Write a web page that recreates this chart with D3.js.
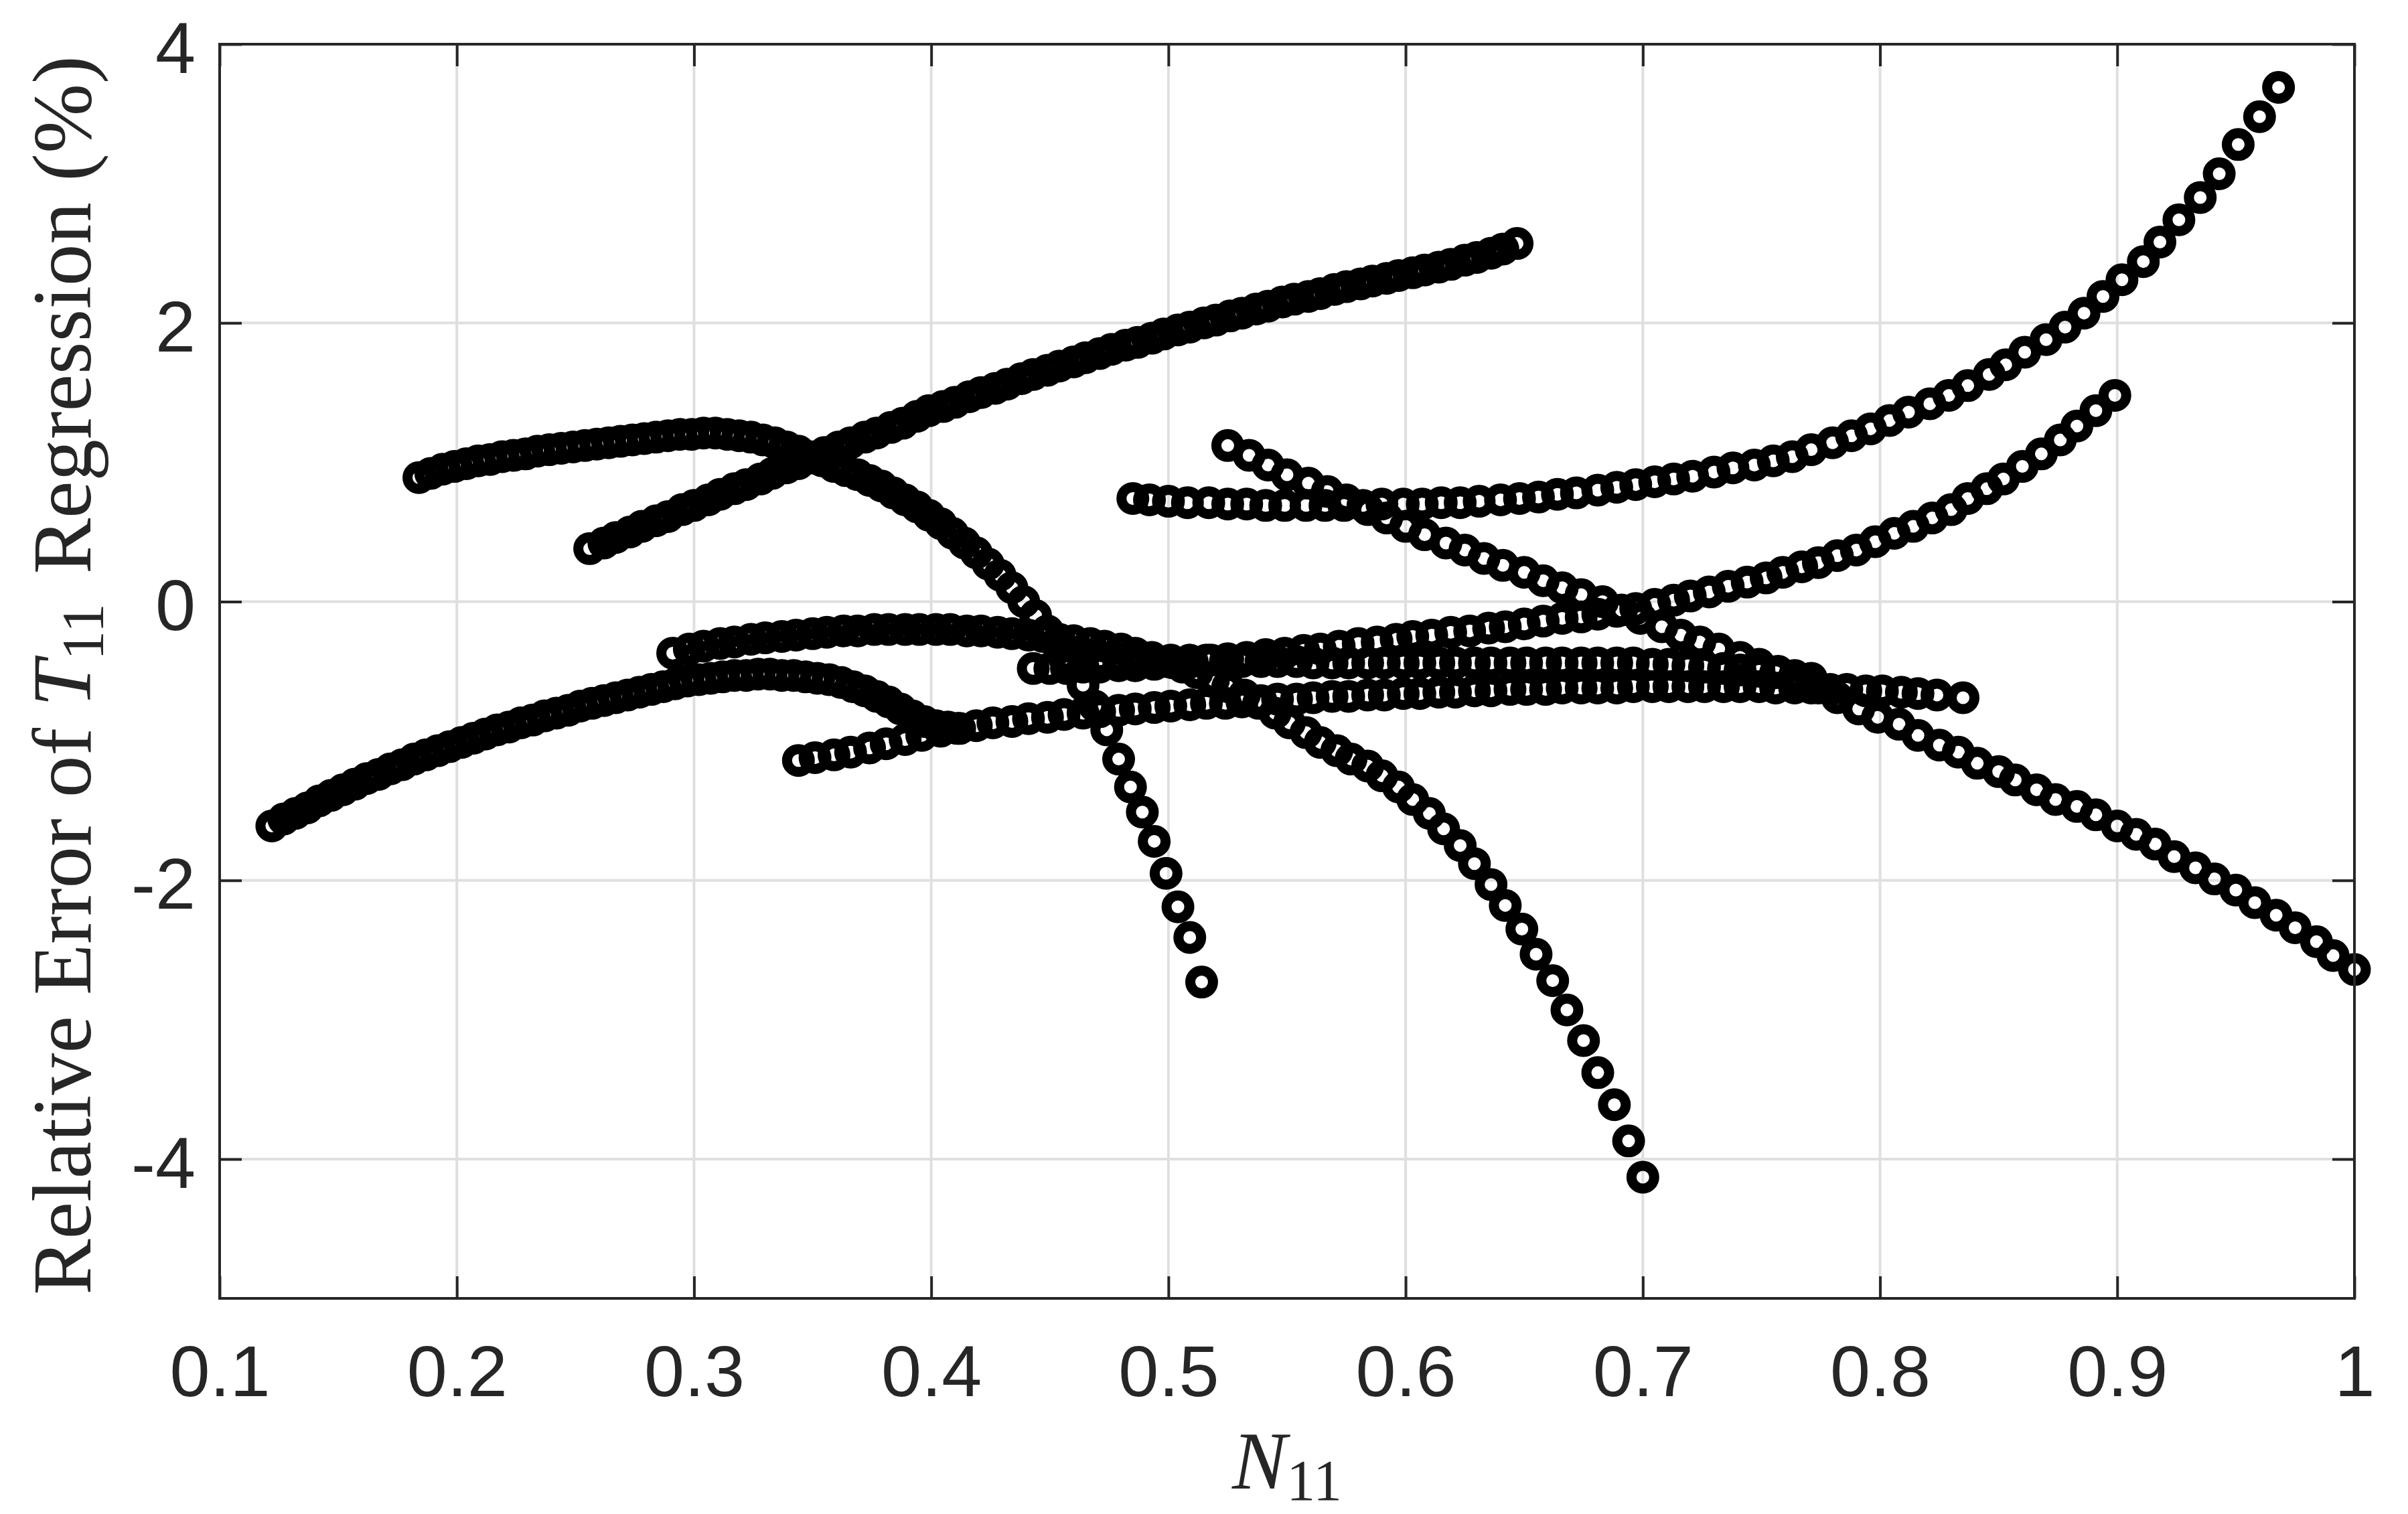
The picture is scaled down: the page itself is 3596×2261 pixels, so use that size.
<!DOCTYPE html>
<html>
<head>
<meta charset="utf-8">
<script src="https://cdn.jsdelivr.net/npm/d3@7"></script>
<style>
  html, body { margin: 0; padding: 0; background: #fff; }
  svg { display: block; }
</style>
</head>
<body>
<svg id="chart"></svg>
<script>
const xTicks = [0.1, 0.2, 0.3, 0.4, 0.5, 0.6, 0.7, 0.8, 0.9, 1];
const xTickLabels = ['0.1', '0.2', '0.3', '0.4', '0.5', '0.6', '0.7', '0.8', '0.9', '1'];
const yTicks = [-4, -2, 0, 2, 4];
const yTickLabels = ['-4', '-2', '0', '2', '4'];

// [N11, relative error %], one array per curve
const curveA = [
  [0.184, 0.89], [0.189, 0.92], [0.194, 0.95], [0.199, 0.97], [0.204, 0.99], [0.209, 1.01], [0.214, 1.02],
  [0.219, 1.04], [0.224, 1.05], [0.229, 1.06], [0.234, 1.08], [0.239, 1.09], [0.244, 1.10], [0.249, 1.11],
  [0.254, 1.12], [0.259, 1.13], [0.264, 1.14], [0.269, 1.15], [0.274, 1.16], [0.279, 1.17], [0.284, 1.18],
  [0.289, 1.19], [0.294, 1.20], [0.299, 1.20], [0.304, 1.21], [0.309, 1.21], [0.314, 1.20], [0.319, 1.19],
  [0.324, 1.18], [0.329, 1.16], [0.334, 1.14], [0.339, 1.11], [0.344, 1.08], [0.349, 1.04], [0.354, 1.01],
  [0.359, 0.97], [0.364, 0.94], [0.369, 0.91], [0.374, 0.87], [0.379, 0.83], [0.384, 0.78], [0.389, 0.73],
  [0.394, 0.68], [0.399, 0.62], [0.404, 0.56], [0.409, 0.49], [0.414, 0.42], [0.419, 0.35], [0.424, 0.27],
  [0.429, 0.19], [0.434, 0.10], [0.439, 0.00], [0.444, -0.10], [0.449, -0.21], [0.454, -0.33], [0.459, -0.46],
  [0.464, -0.60], [0.469, -0.75], [0.474, -0.92], [0.479, -1.13], [0.484, -1.33], [0.489, -1.51], [0.494, -1.72],
  [0.499, -1.95], [0.504, -2.19], [0.509, -2.41], [0.514, -2.73]
];

const curveB = [
  [0.256, 0.38], [0.262, 0.42], [0.267, 0.46], [0.273, 0.50], [0.278, 0.54], [0.284, 0.58], [0.289, 0.61],
  [0.295, 0.66], [0.300, 0.69], [0.306, 0.73], [0.311, 0.77], [0.317, 0.81], [0.322, 0.84], [0.328, 0.88],
  [0.333, 0.92], [0.339, 0.96], [0.344, 0.99], [0.350, 1.03], [0.355, 1.07], [0.361, 1.11], [0.366, 1.14],
  [0.372, 1.18], [0.377, 1.21], [0.383, 1.25], [0.388, 1.28], [0.394, 1.33], [0.399, 1.37], [0.405, 1.40],
  [0.410, 1.43], [0.416, 1.47], [0.421, 1.50], [0.427, 1.53], [0.432, 1.56], [0.438, 1.60], [0.443, 1.63],
  [0.449, 1.66], [0.454, 1.69], [0.460, 1.72], [0.465, 1.75], [0.471, 1.78], [0.476, 1.81], [0.482, 1.84],
  [0.487, 1.86], [0.493, 1.89], [0.498, 1.92], [0.504, 1.95], [0.509, 1.97], [0.515, 2.00], [0.520, 2.02],
  [0.526, 2.05], [0.531, 2.07], [0.537, 2.10], [0.542, 2.12], [0.548, 2.15], [0.553, 2.17], [0.559, 2.19],
  [0.564, 2.21], [0.570, 2.24], [0.575, 2.26], [0.581, 2.28], [0.586, 2.30], [0.592, 2.32], [0.597, 2.34],
  [0.603, 2.36], [0.608, 2.38], [0.614, 2.40], [0.619, 2.42], [0.625, 2.45], [0.630, 2.47], [0.636, 2.50],
  [0.641, 2.53], [0.647, 2.57]
];

const curveC = [
  [0.122, -1.61], [0.127, -1.56], [0.132, -1.52], [0.137, -1.48], [0.142, -1.43], [0.147, -1.39], [0.152, -1.35],
  [0.157, -1.31], [0.162, -1.27], [0.167, -1.24], [0.172, -1.20], [0.177, -1.17], [0.182, -1.13], [0.187, -1.10],
  [0.192, -1.07], [0.197, -1.04], [0.202, -1.01], [0.207, -0.98], [0.212, -0.95], [0.217, -0.92], [0.222, -0.90],
  [0.227, -0.87], [0.232, -0.85], [0.237, -0.82], [0.242, -0.80], [0.247, -0.78], [0.252, -0.75], [0.257, -0.73],
  [0.262, -0.71], [0.267, -0.69], [0.272, -0.67], [0.277, -0.65], [0.282, -0.63], [0.287, -0.61], [0.292, -0.59],
  [0.297, -0.57], [0.302, -0.56], [0.307, -0.55], [0.312, -0.54], [0.317, -0.53], [0.322, -0.53], [0.327, -0.52],
  [0.332, -0.52], [0.337, -0.53], [0.342, -0.53], [0.347, -0.54], [0.352, -0.55], [0.357, -0.56], [0.362, -0.58],
  [0.367, -0.61], [0.372, -0.64], [0.377, -0.68], [0.382, -0.72], [0.387, -0.77], [0.392, -0.82], [0.397, -0.86],
  [0.402, -0.89], [0.407, -0.90], [0.412, -0.91]
];

const curveD = [
  [0.291, -0.37], [0.298, -0.34], [0.304, -0.32], [0.311, -0.30], [0.317, -0.29], [0.324, -0.27], [0.330, -0.26],
  [0.337, -0.25], [0.343, -0.24], [0.350, -0.23], [0.356, -0.22], [0.363, -0.21], [0.369, -0.21], [0.376, -0.20],
  [0.382, -0.20], [0.389, -0.20], [0.395, -0.20], [0.402, -0.20], [0.408, -0.20], [0.415, -0.21], [0.421, -0.21],
  [0.428, -0.22], [0.434, -0.23], [0.441, -0.24], [0.447, -0.25], [0.454, -0.27], [0.460, -0.28], [0.467, -0.30],
  [0.473, -0.32], [0.480, -0.34], [0.486, -0.37], [0.493, -0.40], [0.499, -0.43], [0.506, -0.47], [0.512, -0.51],
  [0.519, -0.56], [0.525, -0.61], [0.532, -0.67], [0.538, -0.73], [0.545, -0.80], [0.551, -0.87], [0.558, -0.94],
  [0.564, -1.01], [0.571, -1.07], [0.577, -1.13], [0.584, -1.18], [0.590, -1.25], [0.597, -1.33], [0.603, -1.42],
  [0.610, -1.52], [0.616, -1.63], [0.623, -1.75], [0.629, -1.88], [0.636, -2.03], [0.642, -2.18], [0.649, -2.35],
  [0.655, -2.53], [0.662, -2.72], [0.668, -2.93], [0.675, -3.15], [0.681, -3.38], [0.688, -3.61], [0.694, -3.87],
  [0.700, -4.13]
];

const curveE = [
  [0.344, -1.14], [0.351, -1.12], [0.359, -1.10], [0.366, -1.08], [0.374, -1.05], [0.381, -1.02], [0.389, -0.99],
  [0.396, -0.96], [0.404, -0.93], [0.411, -0.91], [0.419, -0.89], [0.426, -0.87], [0.434, -0.86], [0.441, -0.84],
  [0.449, -0.83], [0.456, -0.81], [0.464, -0.80], [0.471, -0.79], [0.479, -0.78], [0.486, -0.77], [0.494, -0.76],
  [0.501, -0.75], [0.509, -0.74], [0.516, -0.73], [0.524, -0.73], [0.531, -0.72], [0.539, -0.71], [0.546, -0.70],
  [0.554, -0.70], [0.561, -0.69], [0.569, -0.68], [0.576, -0.68], [0.584, -0.67], [0.591, -0.67], [0.599, -0.66],
  [0.606, -0.66], [0.614, -0.65], [0.621, -0.65], [0.629, -0.64], [0.636, -0.64], [0.644, -0.63], [0.651, -0.63],
  [0.659, -0.63], [0.666, -0.62], [0.674, -0.62], [0.681, -0.62], [0.689, -0.62], [0.696, -0.61], [0.704, -0.61],
  [0.711, -0.61], [0.719, -0.61], [0.726, -0.61], [0.734, -0.61], [0.741, -0.61], [0.749, -0.61], [0.756, -0.62],
  [0.764, -0.62], [0.771, -0.62], [0.779, -0.63], [0.786, -0.63], [0.794, -0.64], [0.801, -0.64], [0.809, -0.65],
  [0.816, -0.66], [0.824, -0.67], [0.835, -0.69]
];

const curveF = [
  [0.443, -0.48], [0.450, -0.48], [0.457, -0.48], [0.464, -0.47], [0.471, -0.47], [0.479, -0.46], [0.486, -0.46],
  [0.494, -0.45], [0.502, -0.44], [0.510, -0.43], [0.518, -0.42], [0.525, -0.41], [0.533, -0.40], [0.541, -0.38],
  [0.549, -0.37], [0.557, -0.35], [0.564, -0.34], [0.572, -0.32], [0.580, -0.30], [0.588, -0.29], [0.596, -0.27],
  [0.603, -0.25], [0.611, -0.24], [0.619, -0.22], [0.627, -0.21], [0.635, -0.19], [0.642, -0.18], [0.650, -0.16],
  [0.658, -0.14], [0.666, -0.12], [0.674, -0.11], [0.681, -0.09], [0.689, -0.07], [0.697, -0.05], [0.705, -0.02],
  [0.713, 0.01], [0.720, 0.04], [0.728, 0.07], [0.736, 0.11], [0.744, 0.14], [0.752, 0.17], [0.759, 0.21],
  [0.767, 0.25], [0.774, 0.28], [0.782, 0.33], [0.790, 0.37], [0.798, 0.43], [0.806, 0.49], [0.814, 0.54],
  [0.822, 0.60], [0.830, 0.66], [0.837, 0.74], [0.845, 0.81], [0.852, 0.88], [0.860, 0.97], [0.868, 1.06],
  [0.876, 1.16], [0.883, 1.26], [0.891, 1.37], [0.899, 1.48]
];

const curveG = [
  [0.485, 0.74], [0.492, 0.73], [0.500, 0.72], [0.508, 0.71], [0.517, 0.71], [0.525, 0.70], [0.533, 0.70],
  [0.541, 0.69], [0.549, 0.69], [0.558, 0.69], [0.566, 0.69], [0.574, 0.69], [0.582, 0.69], [0.590, 0.70],
  [0.599, 0.70], [0.607, 0.70], [0.615, 0.71], [0.623, 0.71], [0.631, 0.72], [0.640, 0.73], [0.648, 0.74],
  [0.656, 0.75], [0.664, 0.77], [0.672, 0.78], [0.681, 0.80], [0.689, 0.82], [0.697, 0.84], [0.705, 0.86],
  [0.713, 0.88], [0.721, 0.90], [0.730, 0.93], [0.738, 0.96], [0.747, 0.98], [0.755, 1.01], [0.763, 1.04],
  [0.771, 1.09], [0.780, 1.14], [0.788, 1.19], [0.796, 1.24], [0.804, 1.30], [0.812, 1.36], [0.821, 1.42],
  [0.829, 1.48], [0.837, 1.55], [0.846, 1.63], [0.853, 1.70], [0.861, 1.79], [0.870, 1.88], [0.878, 1.97],
  [0.886, 2.07], [0.894, 2.19], [0.902, 2.31], [0.911, 2.44], [0.918, 2.58], [0.926, 2.74], [0.935, 2.90],
  [0.943, 3.07], [0.951, 3.28], [0.960, 3.48], [0.968, 3.69]
];

const curveH = [
  [0.525, 1.12], [0.534, 1.05], [0.542, 0.98], [0.550, 0.91], [0.559, 0.85], [0.567, 0.79], [0.575, 0.73],
  [0.584, 0.66], [0.592, 0.60], [0.600, 0.54], [0.608, 0.48], [0.617, 0.42], [0.625, 0.37], [0.633, 0.31],
  [0.641, 0.26], [0.650, 0.21], [0.658, 0.15], [0.666, 0.10], [0.674, 0.05], [0.683, 0.00], [0.691, -0.06],
  [0.699, -0.12], [0.708, -0.18], [0.716, -0.24], [0.724, -0.29], [0.732, -0.34], [0.741, -0.40], [0.749, -0.45],
  [0.757, -0.50], [0.766, -0.56], [0.774, -0.62], [0.782, -0.69], [0.791, -0.77], [0.799, -0.83], [0.808, -0.88],
  [0.816, -0.96], [0.825, -1.03], [0.833, -1.08], [0.841, -1.16], [0.850, -1.22], [0.857, -1.28], [0.866, -1.35],
  [0.874, -1.42], [0.883, -1.47], [0.891, -1.53], [0.900, -1.61], [0.908, -1.67], [0.916, -1.74], [0.924, -1.83],
  [0.933, -1.91], [0.941, -1.99], [0.950, -2.07], [0.958, -2.16], [0.967, -2.25], [0.975, -2.34], [0.984, -2.44],
  [0.991, -2.54], [1.000, -2.64]
];

const curveI = [
  [0.456, -0.40], [0.464, -0.40], [0.471, -0.41], [0.479, -0.41], [0.486, -0.41], [0.494, -0.42], [0.501, -0.42],
  [0.509, -0.42], [0.516, -0.42], [0.524, -0.43], [0.531, -0.43], [0.539, -0.43], [0.546, -0.43], [0.554, -0.43],
  [0.561, -0.44], [0.569, -0.44], [0.576, -0.44], [0.584, -0.44], [0.591, -0.44], [0.599, -0.44], [0.606, -0.44],
  [0.614, -0.44], [0.621, -0.44], [0.629, -0.44], [0.636, -0.44], [0.644, -0.44], [0.651, -0.44], [0.659, -0.44],
  [0.666, -0.44], [0.674, -0.44], [0.681, -0.44], [0.689, -0.44], [0.696, -0.44], [0.704, -0.45], [0.711, -0.45],
  [0.719, -0.46], [0.726, -0.47], [0.734, -0.48], [0.741, -0.49], [0.749, -0.50], [0.756, -0.51], [0.764, -0.53],
  [0.771, -0.55]
];

const series = [curveA, curveB, curveC, curveD, curveE, curveF, curveG, curveH, curveI];

const width = 3596;
const height = 2261;
const margin = { top: 66, right: 80, bottom: 322, left: 328 };
const axisColor = '#262626';
const gridColor = '#dfdfdf';
const tickFont = '"Liberation Sans", Arial, Helvetica, sans-serif';
const mathFont = '"Liberation Serif", "Times New Roman", serif';

const svg = d3.select('#chart')
  .attr('width', width)
  .attr('height', height);

svg.append('rect')
  .attr('width', width)
  .attr('height', height)
  .attr('fill', '#fff');

const x = d3.scaleLinear().domain([0.1, 1]).range([margin.left, width - margin.right]);
const y = d3.scaleLinear().domain([-5, 4]).range([height - margin.bottom, margin.top]);

// grid
const grid = svg.append('g')
  .attr('stroke', gridColor)
  .attr('stroke-width', 4);

grid.selectAll('line.v')
  .data(xTicks)
  .join('line')
  .attr('class', 'v')
  .attr('x1', d => x(d)).attr('x2', d => x(d))
  .attr('y1', y(-5)).attr('y2', y(4));

grid.selectAll('line.h')
  .data(yTicks)
  .join('line')
  .attr('class', 'h')
  .attr('x1', x(0.1)).attr('x2', x(1))
  .attr('y1', d => y(d)).attr('y2', d => y(d));

// markers
const marks = svg.append('g')
  .attr('fill', 'none')
  .attr('stroke', '#000')
  .attr('stroke-width', 15);

marks.selectAll('g')
  .data(series)
  .join('g')
  .selectAll('circle')
  .data(d => d)
  .join('circle')
  .attr('cx', d => x(d[0]))
  .attr('cy', d => y(d[1]))
  .attr('r', 17);

// axes, ticks pointing inward on all four sides
const tickLen = 33;

function styleAxis(g) {
  g.select('.domain').remove();
  g.selectAll('.tick line')
    .attr('stroke', axisColor)
    .attr('stroke-width', 4);
  g.selectAll('.tick text')
    .attr('fill', axisColor)
    .attr('font-family', tickFont)
    .attr('font-size', 108);
}

svg.append('g')
  .attr('transform', `translate(0,${y(-5)})`)
  .call(d3.axisBottom(x).tickValues(xTicks)
    .tickFormat((d, i) => xTickLabels[i])
    .tickSize(-tickLen).tickPadding(69))
  .call(styleAxis);

svg.append('g')
  .attr('transform', `translate(0,${y(4)})`)
  .call(d3.axisTop(x).tickValues(xTicks).tickFormat(() => '').tickSize(-tickLen))
  .call(styleAxis);

svg.append('g')
  .attr('transform', `translate(${x(0.1)},0)`)
  .call(d3.axisLeft(y).tickValues(yTicks)
    .tickFormat((d, i) => yTickLabels[i])
    .tickSize(-tickLen).tickPadding(36))
  .call(styleAxis)
  .call(g => g.selectAll('.tick text').attr('dy', '0.39em'));

svg.append('g')
  .attr('transform', `translate(${x(1)},0)`)
  .call(d3.axisRight(y).tickValues(yTicks).tickFormat(() => '').tickSize(-tickLen))
  .call(styleAxis);

svg.append('rect')
  .attr('x', x(0.1))
  .attr('y', y(4))
  .attr('width', x(1) - x(0.1))
  .attr('height', y(-5) - y(4))
  .attr('fill', 'none')
  .attr('stroke', axisColor)
  .attr('stroke-width', 4);

// axis titles
const xTitle = svg.append('text')
  .attr('x', (x(0.1) + x(1)) / 2)
  .attr('y', 2223)
  .attr('text-anchor', 'middle')
  .attr('font-family', mathFont)
  .attr('font-size', 122)
  .attr('fill', axisColor);
xTitle.append('tspan').attr('font-style', 'italic').text('N');
xTitle.append('tspan').attr('font-size', 86).attr('dy', 17).text('11');

const yTitle = svg.append('text')
  .attr('transform', `translate(135,${(y(-5) + y(4)) / 2 + 6}) rotate(-90)`)
  .attr('text-anchor', 'middle')
  .attr('font-family', mathFont)
  .attr('font-size', 125)
  .attr('fill', axisColor);
yTitle.append('tspan').text('Relative Error of ');
yTitle.append('tspan').attr('font-style', 'italic').text('T');
yTitle.append('tspan').attr('font-size', 88).attr('dy', 18).text('11');
yTitle.append('tspan').attr('dy', -18).attr('dx', 44).text('Regression (%)');
</script>
</body>
</html>
